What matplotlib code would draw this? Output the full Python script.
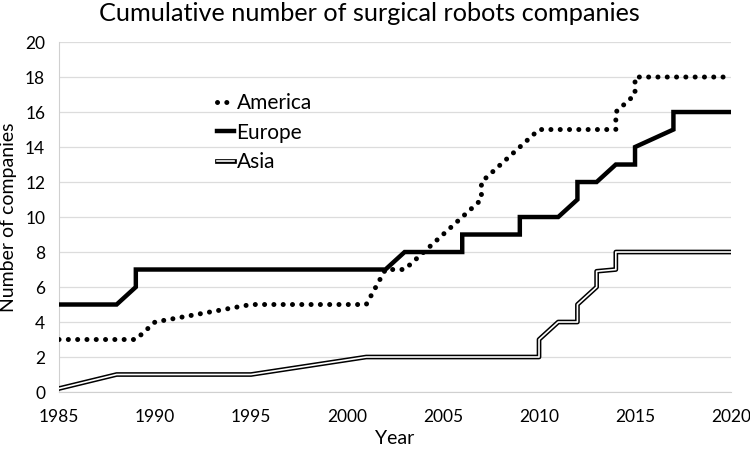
import matplotlib.pyplot as plt
import matplotlib.patheffects as pe

# data
america_years = [1985, 1989, 1990, 1995, 2001, 2002, 2003, 2004, 2005, 2006, 2007, 2007,
                 2008, 2009, 2010, 2014, 2014, 2015, 2015, 2020]
america_vals = [3, 3, 4, 5, 5, 7, 7, 8, 9, 10, 11, 12, 13, 14, 15, 15, 16, 17, 18, 18]

europe_years = [1985, 1988, 1989, 1989, 2002, 2003, 2006, 2006, 2009, 2009, 2011, 2012,
                2012, 2013, 2014, 2015, 2015, 2017, 2017, 2020]
europe_vals = [5, 5, 6, 7, 7, 8, 8, 9, 9, 10, 10, 11, 12, 12, 13, 13, 14, 15, 16, 16]

asia_years = [1985, 1988, 1995, 2001, 2010, 2010, 2011, 2012, 2012, 2013, 2013, 2014, 2014, 2020]
asia_vals = [0.2, 1, 1, 2, 2, 3, 4, 4, 5, 6, 6.9, 7, 8, 8]

x_ticks = [1985, 1990, 1995, 2000, 2005, 2010, 2015, 2020]
y_ticks = list(range(0, 21, 2))

plt.rcParams['font.family'] = ['Lato', 'DejaVu Sans']

fig = plt.figure(figsize=(7.5, 4.51), dpi=100)
ax = fig.add_axes([0.0787, 0.1308, 0.896, 0.776])

ax.plot(america_years, america_vals, color='black', lw=3.6,
        linestyle=(0, (0.01, 1.85)), dash_capstyle='round', label='America', zorder=3)
ax.plot(europe_years, europe_vals, color='black', lw=3.2, label='Europe',
        solid_joinstyle='miter', zorder=3)
ax.plot(asia_years, asia_vals, color='white', lw=1.2, label='Asia', zorder=3,
        path_effects=[pe.Stroke(linewidth=3.4, foreground='black'), pe.Normal()])

ax.set_xlim(1985, 2020)
ax.set_ylim(0, 20)
ax.set_xticks(x_ticks)
ax.set_yticks(y_ticks)
ax.tick_params(length=0, labelsize=12.5)
ax.tick_params(axis='x', pad=12)
ax.tick_params(axis='y', pad=10)
ax.grid(axis='y', color='#dcdcdc', lw=0.9)
ax.set_axisbelow(True)
for s in ['top', 'right']:
    ax.spines[s].set_visible(False)
ax.spines['left'].set_color('#d0d0d0')
ax.spines['bottom'].set_color('#d0d0d0')

ax.set_xlabel('Year', fontsize=14, labelpad=4)
ax.set_ylabel('Number of companies', fontsize=14, labelpad=6)
fig.suptitle('Cumulative number of surgical robots companies', fontsize=18.2,
             x=0.493, y=0.995)

ax.legend(loc='upper left', bbox_to_anchor=(0.289, 0.793), bbox_transform=fig.transFigure,
          frameon=False, fontsize=15, handlelength=0.85, handletextpad=0.1,
          labelspacing=0.45, borderaxespad=0, borderpad=0)

fig.savefig('out.png', dpi=100)
